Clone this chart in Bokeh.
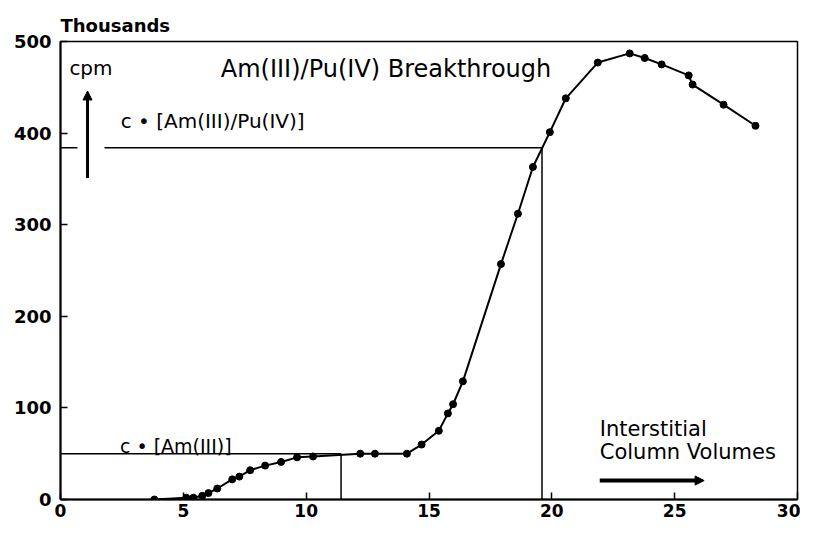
from bokeh.plotting import figure
from bokeh.models import Range1d, FixedTicker, Label, Arrow, NormalHead
from bokeh.embed import file_html
from bokeh.resources import INLINE

# Data (x: interstitial column volumes, y: cpm in thousands)
volumes = [3.82, 5.12, 5.41, 5.77, 6.02, 6.38, 6.99, 7.28, 7.72, 8.33, 8.98, 9.63, 10.28,
           12.2, 12.8, 14.1, 14.7, 15.4, 15.77, 15.98, 16.38, 17.93, 18.62, 19.23, 19.92,
           20.57, 21.87, 23.17, 23.78, 24.47, 25.57, 25.73, 26.99, 28.29]
cpm_thousands = [0, 2, 2, 4, 7, 12, 22, 25, 32, 37, 41, 46, 47,
                 50, 50, 50, 60, 75, 94, 104, 129, 257, 312, 363, 401,
                 438, 477, 487, 482, 475, 463, 453, 431, 408]

# Reference levels
c0_am = 50              # c0 [Am(III)]
c0_ampu = 384           # c0 [Am(III)/Pu(IV)]
x_half_am = 11.42       # volume where Am curve reaches c0
x_half_ampu = 19.6      # volume where Am/Pu curve reaches c0
x_ticks = [0, 5, 10, 15, 20, 25, 30]
y_ticks = [0, 100, 200, 300, 400, 500]

FONT = "DejaVu Sans"

p = figure(width=800, height=523, output_backend="svg", toolbar_location=None,
           x_range=Range1d(0, 30), y_range=Range1d(0, 500),
           min_border_left=60, min_border_right=3, min_border_top=41, min_border_bottom=24)
p.title.text = "Thousands"
p.title.text_font = FONT
p.title.text_font_size = "18px"
p.title.text_font_style = "bold"
p.title.text_color = "black"
p.title.align = "left"
p.title.standoff = 11
p.title.offset = 0

p.xgrid.visible = False
p.ygrid.visible = False
p.outline_line_color = "black"
p.outline_line_width = 1.5
p.outline_line_alpha = 1
p.background_fill_color = "white"
p.border_fill_color = "white"

for ax, ticks in ((p.xaxis[0], x_ticks), (p.yaxis[0], y_ticks)):
    ax.ticker = FixedTicker(ticks=ticks)
    ax.major_tick_in = 7
    ax.major_tick_out = 0
    ax.minor_tick_line_color = None
    ax.axis_line_width = 2
    ax.major_tick_line_width = 1.5
    ax.major_label_text_font = FONT
    ax.major_label_text_font_style = "bold"
    ax.major_label_text_font_size = "18px"
    ax.major_label_text_color = "black"
p.xaxis[0].major_label_text_font_size = "17px"
p.xaxis[0].major_label_standoff = 4
p.yaxis[0].major_label_standoff = 9

# reference lines
p.line([0, x_half_am], [c0_am, c0_am], line_color="black", line_width=1.5)
p.line([x_half_am, x_half_am], [0, c0_am], line_color="black", line_width=1.5)
p.line([0, 0.69], [c0_ampu, c0_ampu], line_color="black", line_width=1.5)
p.line([1.79, x_half_ampu], [c0_ampu, c0_ampu], line_color="black", line_width=1.5)
p.line([x_half_ampu, x_half_ampu], [0, c0_ampu], line_color="black", line_width=1.5)

# curve and points
p.line(volumes, cpm_thousands, line_color="black", line_width=2)
p.scatter(volumes, cpm_thousands, marker="circle", size=7, color="black")

# labels
def lab(x, y, t, size="19px", align="left"):
    p.add_layout(Label(x=x, y=y, text=t, text_font=FONT, text_font_size=size,
                       text_align=align, text_baseline="middle", text_color="black"))

lab(13.25, 470, "Am(III)/Pu(IV) Breakthrough", size="24px", align="center")
lab(1.24, 471, "cpm", size="20px", align="center")
lab(2.45, 412.7, "c • [Am(III)/Pu(IV)]", size="20px")
lab(2.42, 58.5, "c • [Am(III)]", size="19px")
lab(21.95, 76.9, "Interstitial", size="21px")
lab(21.95, 51.8, "Column Volumes", size="21px")

p.add_layout(Arrow(end=NormalHead(size=9, fill_color="black", line_color="black"),
                   x_start=1.1, y_start=351, x_end=1.1, y_end=446,
                   line_width=3, line_color="black"))
p.add_layout(Arrow(end=NormalHead(size=9, fill_color="black", line_color="black"),
                   x_start=21.95, y_start=20.7, x_end=26.2, y_end=20.7,
                   line_width=4, line_color="black"))

open("out.html", "w").write(file_html(p, INLINE))
